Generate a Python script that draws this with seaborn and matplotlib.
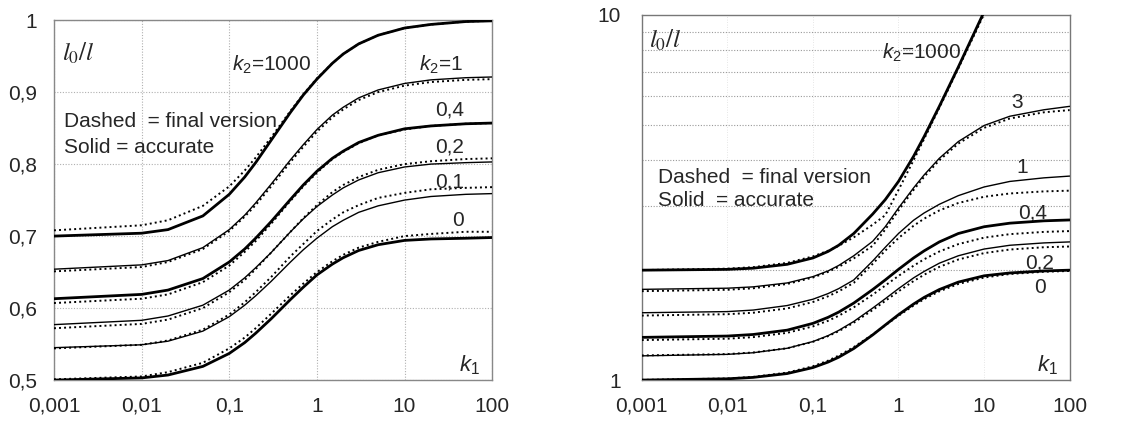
import numpy as np
import pandas as pd
import matplotlib as mpl
import matplotlib.pyplot as plt
import seaborn as sns

sns.set_style("white")
plt.rcParams["font.family"] = ["Liberation Sans", "DejaVu Sans"]
mpl.rcParams["mathtext.fontset"] = "custom"
mpl.rcParams["mathtext.it"] = "Liberation Sans:italic"
mpl.rcParams["mathtext.rm"] = "Liberation Sans"

k1 = [0.001, 0.01, 0.02, 0.05, 0.1, 0.15, 0.2, 0.3, 0.5, 0.7, 1, 1.5, 2, 3, 5, 10, 20, 50, 100]
xtick_labels = ["0,001", "0,01", "0,1", "1", "10", "100"]

# braced members (left chart)
braced_k2 = ["1000", "1", "0,4", "0,2", "0,1", "0"]
braced_solid = {
    "1000": [0.700, 0.704, 0.709, 0.728, 0.758, 0.782, 0.802, 0.833, 0.872, 0.896, 0.918, 0.940, 0.953, 0.967, 0.979, 0.989, 0.994, 0.998, 0.999],
    "1":    [0.654, 0.660, 0.666, 0.684, 0.709, 0.729, 0.746, 0.772, 0.806, 0.827, 0.848, 0.868, 0.879, 0.892, 0.903, 0.912, 0.917, 0.920, 0.921],
    "0,4":  [0.613, 0.619, 0.625, 0.641, 0.664, 0.682, 0.697, 0.720, 0.751, 0.771, 0.790, 0.808, 0.818, 0.830, 0.840, 0.849, 0.853, 0.856, 0.857],
    "0,2":  [0.577, 0.583, 0.589, 0.604, 0.625, 0.642, 0.656, 0.677, 0.706, 0.724, 0.741, 0.757, 0.767, 0.778, 0.788, 0.796, 0.800, 0.802, 0.803],
    "0,1":  [0.545, 0.549, 0.554, 0.568, 0.588, 0.604, 0.617, 0.637, 0.664, 0.681, 0.697, 0.713, 0.722, 0.733, 0.742, 0.750, 0.755, 0.758, 0.759],
    "0":    [0.500, 0.503, 0.507, 0.519, 0.537, 0.552, 0.565, 0.585, 0.612, 0.629, 0.646, 0.661, 0.670, 0.680, 0.688, 0.694, 0.696, 0.697, 0.698],
}
braced_dashed = {
    "1000": [0.708, 0.715, 0.722, 0.742, 0.769, 0.791, 0.809, 0.837, 0.874, 0.897, 0.919, 0.940, 0.953, 0.967, 0.979, 0.989, 0.994, 0.998, 0.999],
    "1":    [0.651, 0.657, 0.664, 0.682, 0.707, 0.727, 0.743, 0.769, 0.803, 0.824, 0.845, 0.865, 0.876, 0.889, 0.900, 0.909, 0.914, 0.917, 0.918],
    "0,4":  [0.607, 0.613, 0.619, 0.636, 0.659, 0.678, 0.693, 0.717, 0.749, 0.769, 0.788, 0.807, 0.817, 0.829, 0.840, 0.848, 0.853, 0.856, 0.857],
    "0,2":  [0.572, 0.578, 0.584, 0.600, 0.622, 0.639, 0.654, 0.677, 0.706, 0.725, 0.743, 0.761, 0.771, 0.782, 0.792, 0.800, 0.804, 0.807, 0.808],
    "0,1":  [0.544, 0.549, 0.555, 0.570, 0.591, 0.608, 0.622, 0.643, 0.672, 0.689, 0.707, 0.723, 0.733, 0.743, 0.753, 0.760, 0.765, 0.767, 0.768],
    "0":    [0.501, 0.505, 0.511, 0.524, 0.544, 0.559, 0.572, 0.592, 0.618, 0.634, 0.650, 0.665, 0.674, 0.684, 0.692, 0.700, 0.703, 0.706, 0.706],
}

# sway members (right chart)
sway_k2 = ["1000", "3", "1", "0,4", "0,2", "0"]
sway_solid = {
    "1000": [2.000, 2.010, 2.025, 2.075, 2.16, 2.25, 2.34, 2.52, 2.85, 3.12, 3.50, 4.10, 4.65, 5.62, 7.20, 10.2, 14.2, 22.0, 31.0],
    "3":    [1.772, 1.785, 1.800, 1.845, 1.92, 1.99, 2.06, 2.19, 2.40, 2.63, 2.96, 3.36, 3.65, 4.05, 4.50, 4.98, 5.28, 5.50, 5.62],
    "1":    [1.529, 1.540, 1.555, 1.600, 1.665, 1.725, 1.78, 1.88, 2.12, 2.31, 2.52, 2.74, 2.87, 3.03, 3.20, 3.38, 3.50, 3.58, 3.62],
    "0,4":  [1.309, 1.320, 1.333, 1.370, 1.430, 1.485, 1.535, 1.625, 1.77, 1.88, 2.01, 2.16, 2.26, 2.39, 2.52, 2.63, 2.69, 2.73, 2.745],
    "0,2":  [1.165, 1.176, 1.188, 1.222, 1.275, 1.323, 1.368, 1.447, 1.575, 1.67, 1.78, 1.905, 1.985, 2.09, 2.19, 2.285, 2.34, 2.375, 2.39],
    "0":    [1.000, 1.008, 1.017, 1.042, 1.082, 1.120, 1.155, 1.220, 1.330, 1.415, 1.510, 1.615, 1.685, 1.770, 1.855, 1.930, 1.965, 1.990, 2.000],
}
sway_dashed = {
    "1000": [2.001, 2.019, 2.038, 2.094, 2.181, 2.260, 2.332, 2.460, 2.665, 2.828, 3.317, 4.0, 4.583, 5.568, 7.141, 10.05, 14.04, 22.0, 31.0],
    "3":    [1.752, 1.767, 1.784, 1.833, 1.909, 1.978, 2.042, 2.154, 2.333, 2.584, 2.915, 3.317, 3.606, 4.000, 4.444, 4.907, 5.205, 5.413, 5.489],
    "1":    [1.502, 1.515, 1.529, 1.571, 1.636, 1.696, 1.750, 1.846, 2.082, 2.262, 2.449, 2.646, 2.769, 2.915, 3.055, 3.177, 3.244, 3.287, 3.302],
    "0,4":  [1.287, 1.298, 1.311, 1.347, 1.403, 1.453, 1.500, 1.582, 1.714, 1.815, 1.929, 2.057, 2.143, 2.250, 2.357, 2.455, 2.510, 2.546, 2.559],
    "0,2":  [1.168, 1.178, 1.190, 1.222, 1.273, 1.319, 1.361, 1.436, 1.556, 1.647, 1.750, 1.867, 1.944, 2.042, 2.139, 2.227, 2.278, 2.311, 2.322],
    "0":    [1.001, 1.010, 1.020, 1.048, 1.091, 1.130, 1.167, 1.231, 1.333, 1.412, 1.500, 1.600, 1.667, 1.750, 1.833, 1.909, 1.952, 1.980, 1.990],
}

thick = {"1000", "0,4", "0"}
FS = 15

fig = plt.figure(figsize=(11.44, 4.28), dpi=100)
ax1 = fig.add_axes([0.0472, 0.112, 0.383, 0.841])
ax2 = fig.add_axes([0.561, 0.112, 0.374, 0.853])


def draw_curves(ax, keys, solid, dashed):
    for key in keys:
        df = pd.DataFrame({"k1": k1, "solid": solid[key], "dashed": dashed[key]})
        sns.lineplot(data=df, x="k1", y="dashed", ax=ax, color="black", lw=1.4,
                     linestyle=(0, (1, 1.6)), zorder=3)
        sns.lineplot(data=df, x="k1", y="solid", ax=ax, color="black",
                     lw=2.0 if key in thick else 1.0, zorder=4)


draw_curves(ax1, braced_k2, braced_solid, braced_dashed)
draw_curves(ax2, sway_k2, sway_solid, sway_dashed)

for ax in (ax1, ax2):
    ax.set_xscale("log")
    ax.set_xlim(0.001, 100)
    ax.set_xticks([0.001, 0.01, 0.1, 1, 10, 100])
    ax.set_xticklabels(xtick_labels)
    ax.xaxis.set_minor_locator(mpl.ticker.NullLocator())
    ax.set_xlabel("")
    ax.set_ylabel("")
    ax.tick_params(axis="both", length=0, labelsize=FS, pad=12)
    ax.text(0.972, 0.042, "$k_1$", transform=ax.transAxes, ha="right", va="center", fontsize=16)

# left chart axes
ax1.set_ylim(0.5, 1.0)
ax1.set_yticks([0.5, 0.6, 0.7, 0.8, 0.9, 1.0])
ax1.set_yticklabels(["0,5", "0,6", "0,7", "0,8", "0,9", "1"])
ax1.grid(True, color="#b0b0b0", linestyle=(0, (1, 1.5)), lw=0.8)
for s in ax1.spines.values():
    s.set_color("#888888")
    s.set_linewidth(1.0)
ax1.text(0.018, 0.908, "$l_0/l$", transform=ax1.transAxes, ha="left", va="center", fontsize=18,
         math_fontfamily="stix")
ax1.text(0.022, 0.717, "Dashed  = final version", transform=ax1.transAxes, fontsize=FS, va="center")
ax1.text(0.022, 0.647, "Solid = accurate", transform=ax1.transAxes, fontsize=FS, va="center")
ax1.text(0.108, 0.9375, "$k_2$=1000", fontsize=FS, ha="left", va="center")
ax1.text(46, 0.9375, "$k_2$=1", fontsize=FS, ha="right", va="center")
ax1.text(33, 0.875, "0,4", fontsize=FS, ha="center", va="center")
ax1.text(33, 0.824, "0,2", fontsize=FS, ha="center", va="center")
ax1.text(33, 0.775, "0,1", fontsize=FS, ha="center", va="center")
ax1.text(41, 0.722, "0", fontsize=FS, ha="center", va="center")

# right chart axes
ax2.set_yscale("log")
ax2.set_ylim(1, 10)
ax2.set_yticks([1, 10])
ax2.set_yticklabels(["1", "10"])
ax2.yaxis.set_minor_locator(mpl.ticker.LogLocator(base=10, subs=np.arange(2, 10)))
ax2.yaxis.set_minor_formatter(mpl.ticker.NullFormatter())
ax2.tick_params(axis="y", which="minor", length=0)
ax2.tick_params(axis="y", which="major", pad=15)
ax2.grid(True, which="minor", axis="y", color="#999999", linestyle=(0, (1, 1.5)), lw=0.8)
ax2.grid(True, which="major", axis="x", color="#dddddd", linestyle=(0, (1, 2)), lw=0.6)
for s in ax2.spines.values():
    s.set_color("#777777")
    s.set_linestyle((0, (1, 1)))
    s.set_linewidth(1.0)
ax2.text(0.018, 0.93, "$l_0/l$", transform=ax2.transAxes, ha="left", va="center", fontsize=18,
         math_fontfamily="stix")
ax2.text(0.037, 0.556, "Dashed  = final version", transform=ax2.transAxes, fontsize=FS, va="center")
ax2.text(0.037, 0.493, "Solid  = accurate", transform=ax2.transAxes, fontsize=FS, va="center")
ax2.text(0.637, 7.87, "$k_2$=1000", fontsize=FS, ha="left", va="center")
ax2.text(24, 5.74, "3", fontsize=FS, ha="center", va="center")
ax2.text(28, 3.81, "1", fontsize=FS, ha="center", va="center")
ax2.text(37, 2.87, "0,4", fontsize=FS, ha="center", va="center")
ax2.text(45, 2.09, "0,2", fontsize=FS, ha="center", va="center")
ax2.text(45, 1.79, "0", fontsize=FS, ha="center", va="center")

fig.savefig("out.png", dpi=100)
